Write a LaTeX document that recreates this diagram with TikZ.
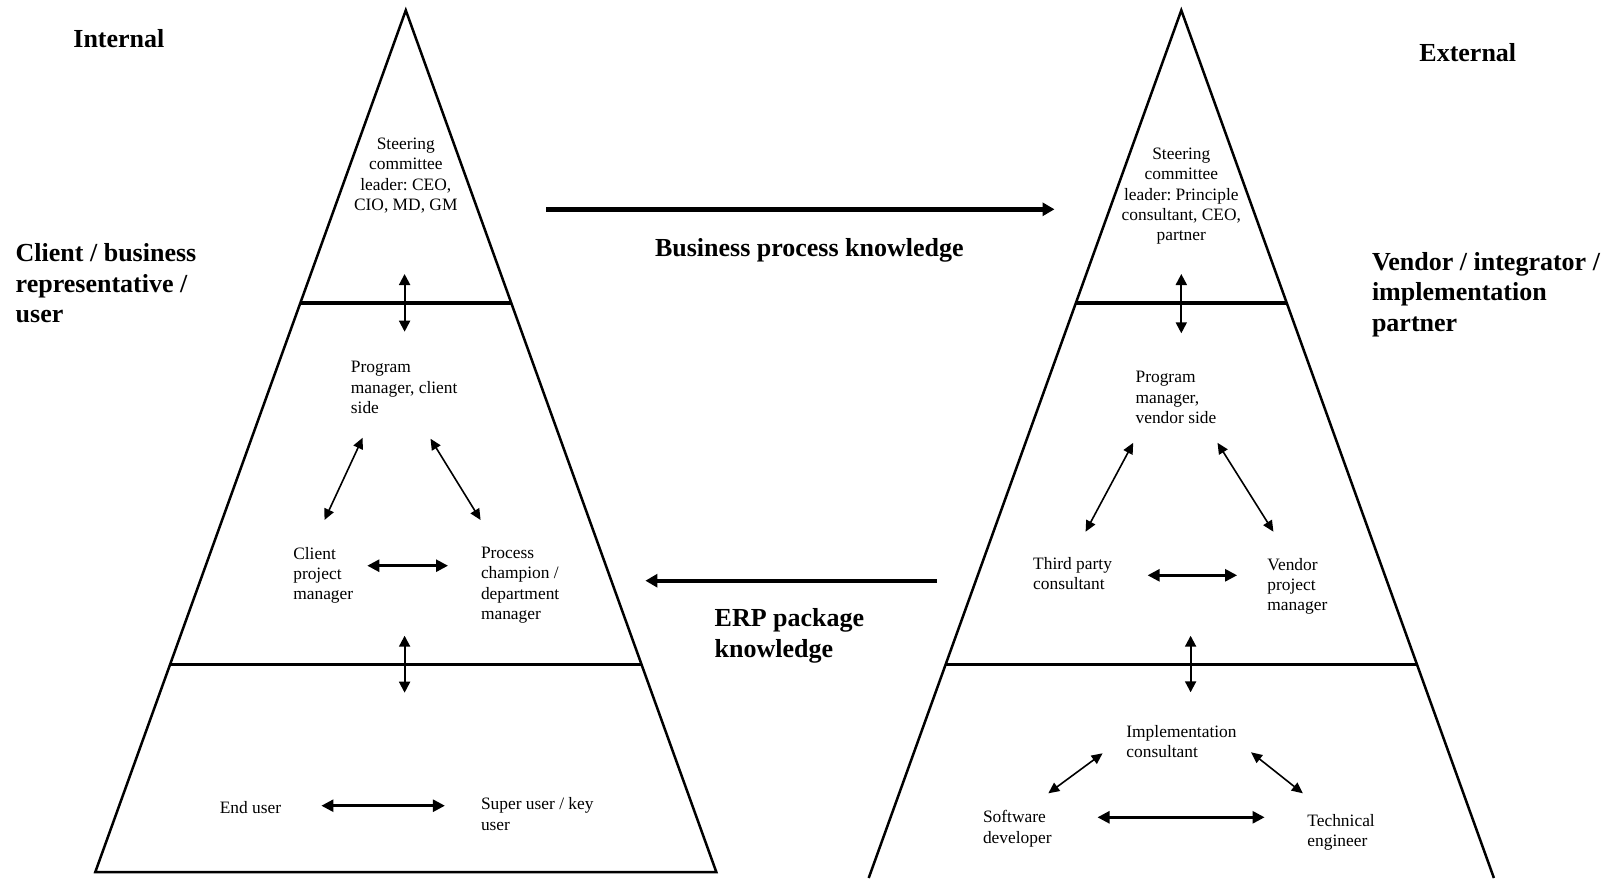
\documentclass[tikz,border=0pt]{standalone}
\usepackage{fontspec}
\setmainfont{Liberation Serif}
\usetikzlibrary{arrows.meta}
\frenchspacing
\begin{document}
\begin{tikzpicture}[x=0.5pt,y=-0.5pt,
  small/.style={font=\fontsize{8.7}{10.2}\selectfont, inner sep=0pt, align=left, anchor=north west},
  smallc/.style={small, align=center, anchor=north},
  big/.style={font=\fontsize{13}{15.25}\selectfont\bfseries, inner sep=0pt, align=left, anchor=north west},
  edge/.style={line width=1.25pt, line join=miter},
  divider/.style={line width=1.9pt},
  flow/.style={line width=2.2pt, -{Triangle[length=6pt,width=6.5pt]}},
  link/.style={line width=1pt, {Triangle[length=5.5pt,width=5.5pt]}-{Triangle[length=5.5pt,width=5.5pt]}},
  hlink/.style={line width=1.3pt, {Triangle[length=6pt,width=6pt]}-{Triangle[length=6pt,width=6pt]}},
  diag/.style={line width=0.8pt, {Triangle[length=5.5pt,width=5pt]}-{Triangle[length=5.5pt,width=5pt]}}
]
\useasboundingbox (0,0) rectangle (1611,878);

% ---------- left pyramid ----------
\coordinate (LA) at (405.8,10.3);
\coordinate (LBL) at (95.3,872);
\coordinate (LBR) at (716.3,872);
\draw[edge] (LBL) -- (LA) -- (LBR) -- cycle;
\coordinate (LD1a) at (300.3,303);
\coordinate (LD1b) at (511.3,303);
\coordinate (LD2a) at (170.1,664.5);
\coordinate (LD2b) at (641.5,664.5);
\draw[divider] (LD1a) -- (LD1b);
\draw[divider] (LD2a) -- (LD2b);

% ---------- right pyramid ----------
\coordinate (RA) at (1181.3,10.3);
\coordinate (RBL) at (868.7,878);
\coordinate (RBR) at (1493.9,878);
\draw[edge] (RBL) -- (RA) -- (RBR);
\coordinate (RD1a) at (1075.8,303);
\coordinate (RD1b) at (1286.8,303);
\coordinate (RD2a) at (945.6,664.5);
\coordinate (RD2b) at (1417,664.5);
\draw[divider] (RD1a) -- (RD1b);
\draw[divider] (RD2a) -- (RD2b);

% ---------- headings ----------
\node[big] (internal) at (73,29.5) {Internal};
\node[big] (external) at (1419,43) {External};
\node[big] (client) at (15.3,243.3) {Client / business\\representative /\\user};
\node[big] (vendor) at (1371.6,251.7) {Vendor / integrator /\\implementation\\partner};
\node[big] (bpk) at (654.6,238.3) {Business process knowledge};
\node[big] (erp) at (714.3,608.3) {ERP package\\knowledge};

% ---------- left texts ----------
\node[smallc] (lsteer) at (405.8,137.3) {Steering\\committee\\leader: CEO,\\CIO, MD, GM};
\node[small] (lprog) at (350.5,361) {Program\\manager, client\\side};
\node[small] (lcpm) at (292.9,546.7) {Client\\project\\manager};
\node[small] (lproc) at (480.6,546.7) {Process\\champion /\\department\\manager};
\node[small] (lend) at (219.4,800.7) {End user};
\node[small] (lsuper) at (480.6,797.3) {Super user / key\\user};

% ---------- right texts ----------
\node[smallc] (rsteer) at (1181.3,147.3) {Steering\\committee\\leader: Principle\\consultant, CEO,\\partner};
\node[small] (rprog) at (1135.2,371) {Program\\manager,\\vendor side};
\node[small] (rthird) at (1032.8,556.7) {Third party\\consultant};
\node[small] (rvpm) at (1267,557.7) {Vendor\\project\\manager};
\node[small] (rimpl) at (1126,725) {Implementation\\consultant};
\node[small] (rsoft) at (982.6,810) {Software\\developer};
\node[small] (rtech) at (1307,814) {Technical\\engineer};

% ---------- big flow arrows ----------
\coordinate (bpkS) at (546,209.3);
\coordinate (bpkE) at (1054.5,209.3);
\draw[flow] (bpkS) -- (bpkE);
\coordinate (erpS) at (937,580.7);
\coordinate (erpE) at (645.4,580.7);
\draw[flow] (erpS) -- (erpE);

% ---------- left arrows ----------
\coordinate (l1a) at (404.6,274);   \coordinate (l1b) at (404.6,331.7);
\draw[link] (l1a) -- (l1b);
\coordinate (l2a) at (362.7,437.7); \coordinate (l2b) at (324.5,520);
\draw[diag] (l2a) -- (l2b);
\coordinate (l3a) at (430.5,438.7); \coordinate (l3b) at (480.6,520);
\draw[diag] (l3a) -- (l3b);
\coordinate (l4a) at (367.3,565.7); \coordinate (l4b) at (448,565.7);
\draw[hlink] (l4a) -- (l4b);
\coordinate (l5a) at (404.6,635.7); \coordinate (l5b) at (404.6,692.7);
\draw[link] (l5a) -- (l5b);
\coordinate (l6a) at (321.4,805.7); \coordinate (l6b) at (444.9,805.7);
\draw[hlink] (l6a) -- (l6b);

% ---------- right arrows ----------
\coordinate (r1a) at (1181.3,274);  \coordinate (r1b) at (1181.3,333.3);
\draw[link] (r1a) -- (r1b);
\coordinate (r2a) at (1133.2,442.8); \coordinate (r2b) at (1085.6,531.7);
\draw[diag] (r2a) -- (r2b);
\coordinate (r3a) at (1217.5,442.8); \coordinate (r3b) at (1273.4,531.7);
\draw[diag] (r3a) -- (r3b);
\coordinate (r4a) at (1147.6,575.3); \coordinate (r4b) at (1237.1,575.3);
\draw[hlink] (r4a) -- (r4b);
\coordinate (r5a) at (1190.6,635.7); \coordinate (r5b) at (1190.6,692.3);
\draw[link] (r5a) -- (r5b);
\coordinate (r6a) at (1102.6,753.3); \coordinate (r6b) at (1048.3,793.3);
\draw[diag] (r6a) -- (r6b);
\coordinate (r7a) at (1251.1,752.3); \coordinate (r7b) at (1302.8,793.3);
\draw[diag] (r7a) -- (r7b);
\coordinate (r8a) at (1097.5,817.3); \coordinate (r8b) at (1264.6,817.3);
\draw[hlink] (r8a) -- (r8b);
\end{tikzpicture}
\end{document}
